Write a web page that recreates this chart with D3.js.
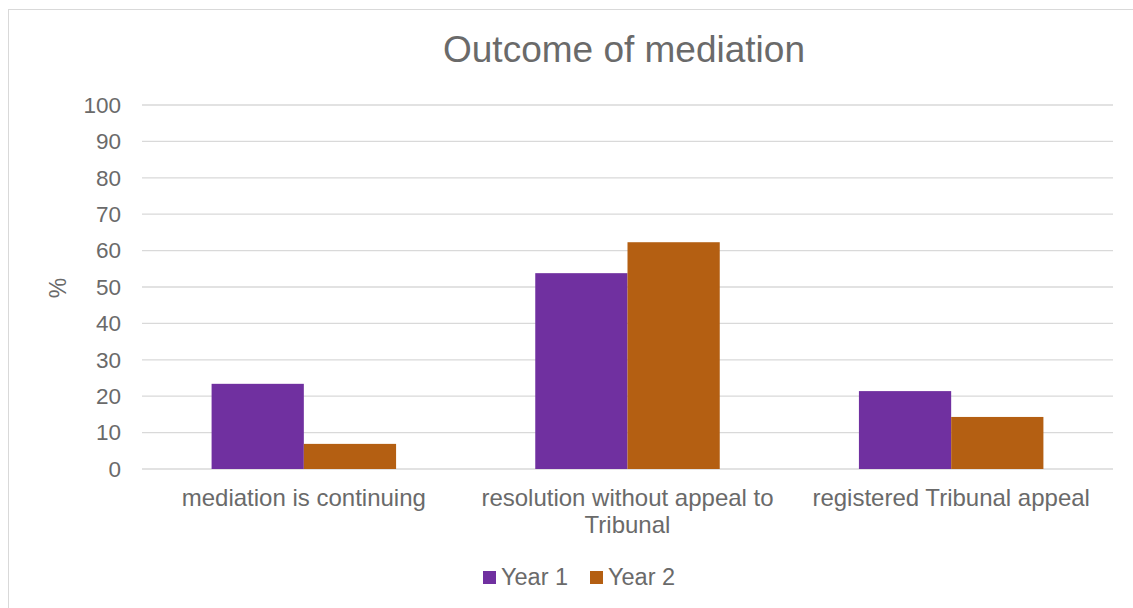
<!DOCTYPE html>
<html><head><meta charset="utf-8">
<script src="https://cdn.jsdelivr.net/npm/d3@7"></script>
<style>body{margin:0;background:#fff;}svg{display:block;}</style>
</head><body>
<script>
const categories = [["mediation is continuing"], ["resolution without appeal to", "Tribunal"], ["registered Tribunal appeal"]];
const seriesNames = ["Year 1", "Year 2"];
const year1 = [23.4, 53.8, 21.4];
const year2 = [6.9, 62.3, 14.3];
const yTicks = [0,10,20,30,40,50,60,70,80,90,100];
const colors = ["#7030A0", "#B45F12"];

(function(){
const W = 1133, H = 608;
const svg = d3.select("body").append("svg").attr("width", W).attr("height", H);
svg.append("rect").attr("x", 8.5).attr("y", 9.5).attr("width", W).attr("height", H)
  .attr("fill", "#fff").attr("stroke", "#d9d9d9");

const pL = 142, pR = 1113, pT = 105, pB = 469;
const x0 = d3.scaleBand().domain(d3.range(categories.length)).range([pL, pR]).paddingInner(0.43).paddingOuter(0.215);
const x1 = d3.scaleBand().domain(d3.range(seriesNames.length)).range([0, x0.bandwidth()]);
const y = d3.scaleLinear().domain([0, 100]).range([pB, pT]);

const font = "Liberation Sans, Arial, sans-serif";
const textColor = "#6a6a6a";
const fs = 24;

svg.append("g").selectAll("line").data(yTicks).join("line")
  .attr("x1", pL).attr("x2", pR)
  .attr("y1", d => y(d)).attr("y2", d => y(d))
  .attr("stroke", "#d9d9d9").attr("stroke-width", 1.3);

svg.append("g").selectAll("text").data(yTicks).join("text")
  .attr("x", 121).attr("y", d => y(d)).attr("dy", "0.35em")
  .attr("text-anchor", "end").attr("font-family", font).attr("font-size", 22.5)
  .attr("fill", textColor).text(d => d);

const data = [year1, year2];
categories.forEach((c, i) => {
  data.forEach((s, j) => {
    svg.append("rect")
      .attr("x", x0(i) + x1(j)).attr("width", x1.bandwidth())
      .attr("y", y(s[i])).attr("height", y(0) - y(s[i]))
      .attr("fill", colors[j]);
  });
  const t = svg.append("text").attr("text-anchor", "middle").attr("font-family", font)
    .attr("font-size", fs).attr("fill", textColor);
  c.forEach((line, k) => {
    t.append("tspan").attr("x", x0(i) + x0.bandwidth() / 2).attr("y", 506 + k * 27).text(line);
  });
});

svg.append("text").attr("x", 624).attr("y", 62).attr("text-anchor", "middle")
  .attr("font-family", font).attr("font-size", 37).attr("fill", textColor).text("Outcome of mediation");

svg.append("text").attr("transform", "translate(58,288) rotate(-90)").attr("text-anchor", "middle")
  .attr("dy", "0.35em")
  .attr("font-family", font).attr("font-size", 23).attr("fill", textColor).text("%");

const legendX = [483, 590];
seriesNames.forEach((n, j) => {
  svg.append("rect").attr("x", legendX[j]).attr("y", 571).attr("width", 13).attr("height", 13).attr("fill", colors[j]);
  svg.append("text").attr("x", legendX[j] + 18).attr("y", 577).attr("dy", "0.35em")
    .attr("font-family", font).attr("font-size", 23.5).attr("fill", textColor).text(n);
});
})();
</script>
</body></html>
